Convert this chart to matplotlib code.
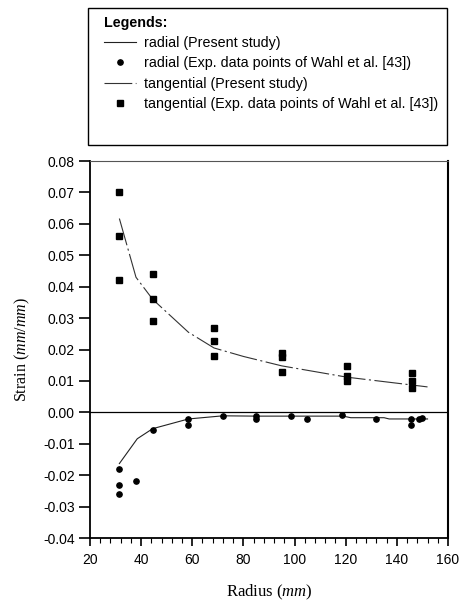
import numpy as np
import matplotlib.pyplot as plt
from matplotlib.patches import Rectangle

plt.rcParams['font.family'] = ['Liberation Sans', 'DejaVu Sans']
plt.rcParams['mathtext.fontset'] = 'custom'
plt.rcParams['mathtext.rm'] = 'Liberation Serif'
plt.rcParams['mathtext.it'] = 'Liberation Serif:italic'
plt.rcParams['lines.scale_dashes'] = False

# model curves (present study)
tan_x = [31.5, 38, 44.5, 58.5, 68.5, 80, 95, 120.5, 146, 152]
tan_y = [0.0617, 0.043, 0.036, 0.0255, 0.0205, 0.0178, 0.0148, 0.0112, 0.0087, 0.0081]
rad_x = [31.5, 38.5, 44.5, 58.5, 72, 85, 100, 119, 122, 135, 137, 152]
rad_y = [-0.0163, -0.0084, -0.0052, -0.0021, -0.0011, -0.0012, -0.0012, -0.0012,
         -0.0017, -0.0017, -0.0021, -0.0021]

# experimental points (Wahl et al.)
rad_exp_x = [31.5, 31.5, 31.5, 38, 44.5, 58.5, 58.5, 72, 85, 85, 98.5, 105, 118.5,
             132, 145.5, 145.5, 148.5, 150]
rad_exp_y = [-0.018, -0.023, -0.026, -0.022, -0.0057, -0.002, -0.004, -0.001,
             -0.0012, -0.002, -0.0012, -0.002, -0.0008, -0.002, -0.002, -0.004,
             -0.002, -0.0018]
tan_exp_x = [31.5, 31.5, 31.5, 44.5, 44.5, 44.5, 68.5, 68.5, 68.5, 95, 95, 95,
             120.5, 120.5, 120.5, 146, 146, 146]
tan_exp_y = [0.070, 0.056, 0.042, 0.044, 0.036, 0.029, 0.027, 0.0228, 0.0178,
             0.019, 0.0175, 0.0128, 0.0147, 0.0116, 0.0099, 0.0126, 0.0100, 0.0079]

fig = plt.figure(figsize=(4.59, 6.10), dpi=100)
ax = fig.add_axes([0.196, 0.118, 0.78, 0.618])

ax.axhline(0, color='black', lw=0.9)
l1, = ax.plot(rad_x, rad_y, color='#222222', lw=0.8)
l2, = ax.plot(rad_exp_x, rad_exp_y, 'o', color='black', ms=3.8, ls='none')
l3, = ax.plot(tan_x, tan_y, color='#333333', lw=0.8, dashes=(20, 2.5, 1.5, 2.5))
l4, = ax.plot(tan_exp_x, tan_exp_y, 's', color='black', ms=3.8, ls='none')

ax.set_xlim(20, 160)
ax.set_ylim(-0.04, 0.08)
ax.set_xticks(np.arange(20, 161, 20))
ax.set_xticks(np.arange(20, 161, 4), minor=True)
ax.set_yticks(np.arange(-0.04, 0.081, 0.01))
ax.set_yticklabels(['%.2f' % v for v in np.arange(-0.04, 0.081, 0.01)])
ax.tick_params(axis='both', labelsize=10, direction='out', width=1.2)
ax.tick_params(axis='y', length=8, pad=3)
ax.tick_params(axis='x', which='major', length=5.5, pad=5)
ax.tick_params(axis='x', which='minor', length=3.5, width=0.8)

ax.spines['left'].set_linewidth(1.3)
ax.spines['bottom'].set_linewidth(1.3)
ax.spines['right'].set_linewidth(1.5)
ax.spines['top'].set_linewidth(0.8)
ax.spines['top'].set_color('#555555')

ax.set_xlabel(r'Radius ($\it{mm}$)', family='Liberation Serif', fontsize=12, labelpad=12)
ax.set_ylabel(r'Strain ($\it{mm/mm}$)', family='Liberation Serif', fontsize=11.5, labelpad=8)

# legend box
fig.patches.append(Rectangle((88 / 459, 1 - 145 / 610), 359 / 459, 137 / 610,
                             transform=fig.transFigure, fill=False,
                             edgecolor='black', lw=1.0))
leg = fig.legend([l1, l2, l3, l4],
                 ['radial (Present study)',
                  'radial (Exp. data points of Wahl et al. [43])',
                  'tangential (Present study)',
                  'tangential (Exp. data points of Wahl et al. [43])'],
                 loc='upper left', bbox_to_anchor=(95 / 459, 1 - 7 / 610),
                 frameon=False, fontsize=10.3, title='Legends:',
                 title_fontproperties={'weight': 'bold', 'size': 10.3},
                 alignment='left', handlelength=2.3, handletextpad=0.5,
                 labelspacing=0.45, borderpad=0.1)

fig.savefig('out.png', dpi=100)
